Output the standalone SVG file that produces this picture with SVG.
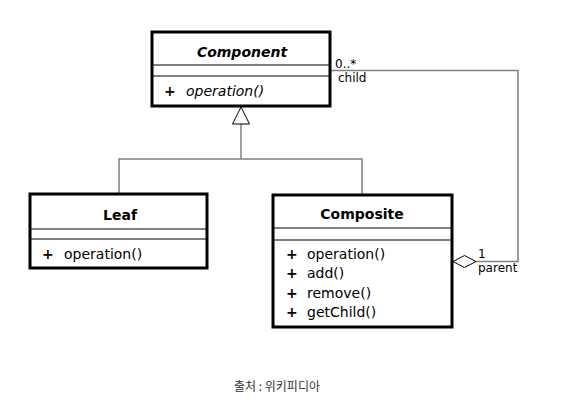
<svg xmlns="http://www.w3.org/2000/svg" width="561" height="411" viewBox="0 0 561 411">
<style>
.box{fill:#fff;stroke:#000;stroke-width:3}
.div{stroke:#000;stroke-width:1}
.name{font-family:"DejaVu Sans",sans-serif;font-size:14px;font-weight:bold;text-anchor:middle;fill:#000}
.op{font-family:"DejaVu Sans",sans-serif;font-size:14px;fill:#000}
.pl{font-family:"DejaVu Sans",sans-serif;font-size:14px;font-weight:bold;fill:#000}
.lbl{font-family:"DejaVu Sans",sans-serif;font-size:12px;fill:#000}
.conn{fill:none;stroke:#808080;stroke-width:1.5}
.cap{font-family:"Noto Sans CJK KR","Noto Sans",sans-serif;font-size:12px;fill:#333;text-anchor:middle}
</style>
<rect width="561" height="411" fill="#fff"/>
<g id="connectors">
<polyline class="conn" points="119,194 119,159 362,159 362,195"/>
<line class="conn" x1="241" y1="124" x2="241" y2="159"/>
<polygon points="241,107 232.5,124 249.5,124" fill="#fff" stroke="#000" stroke-width="1"/>
<polyline class="conn" points="331,70.5 518,70.5 518,261.5 476,261.5"/>
<polygon points="453,261.5 464.5,255.5 476,261.5 464.5,267.5" fill="#fff" stroke="#000" stroke-width="1"/>
<text class="lbl" x="335" y="68">0..*</text>
<text class="lbl" x="338" y="82">child</text>
<text class="lbl" x="478" y="258">1</text>
<text class="lbl" x="478" y="272">parent</text>
</g>
<g id="component">
<rect class="box" x="152" y="32" width="178" height="74"/>
<line class="div" x1="152" y1="65" x2="330" y2="65"/>
<line class="div" x1="152" y1="76" x2="330" y2="76"/>
<text class="name" x="242" y="57" font-style="italic">Component</text>
<text class="pl" x="164" y="96">+</text>
<text class="op" x="186" y="96" font-style="italic">operation()</text>
</g>
<g id="leaf">
<rect class="box" x="30" y="194" width="177" height="74"/>
<line class="div" x1="30" y1="229" x2="207" y2="229"/>
<line class="div" x1="30" y1="239" x2="207" y2="239"/>
<text class="name" x="120" y="220">Leaf</text>
<text class="pl" x="42" y="259">+</text>
<text class="op" x="64" y="259">operation()</text>
</g>
<g id="composite">
<rect class="box" x="273" y="195" width="179" height="132"/>
<line class="div" x1="273" y1="228" x2="452" y2="228"/>
<line class="div" x1="273" y1="240" x2="452" y2="240"/>
<text class="name" x="362" y="219">Composite</text>
<text class="pl" x="286" y="259">+</text>
<text class="op" x="307" y="259">operation()</text>
<text class="pl" x="286" y="278">+</text>
<text class="op" x="307" y="278">add()</text>
<text class="pl" x="286" y="298">+</text>
<text class="op" x="307" y="298">remove()</text>
<text class="pl" x="286" y="317">+</text>
<text class="op" x="307" y="317">getChild()</text>
</g>
<text class="cap" x="277" y="391">출처 : 위키피디아</text>
</svg>
